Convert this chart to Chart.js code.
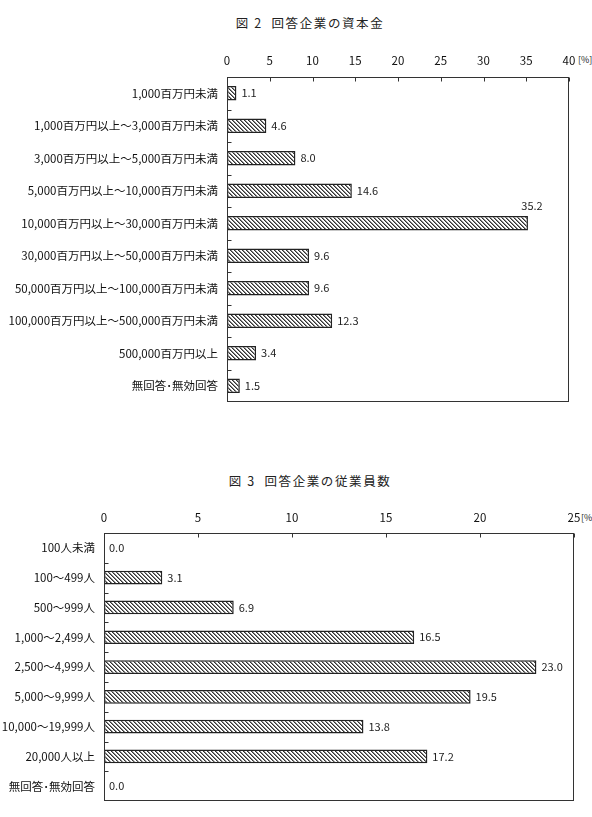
<!DOCTYPE html>
<html lang="ja">
<head>
<meta charset="utf-8">
<script src="https://cdn.jsdelivr.net/npm/chart.js@4/dist/chart.umd.min.js"></script>
<style>
  body { margin: 0; background: #fff; width: 592px; height: 817px; position: relative; overflow: hidden;
         font-family: "Noto Sans CJK JP", sans-serif; color: #222; }
  .title { position: absolute; left: 0; width: 620px; text-align: center; font-size: 12.5px; letter-spacing: 1.6px; }
  .unit { position: absolute; font-size: 9px; }
  canvas { position: absolute; left: 0; }
</style>
</head>
<body>
<div class="title" style="top:13px">図 2&nbsp; 回答企業の資本金</div>
<span class="unit" style="left:578px;top:53px">[%]</span>
<canvas id="capitalChart" width="592" height="420" style="top:0"></canvas>

<div class="title" style="top:471px">図 3&nbsp; 回答企業の従業員数</div>
<span class="unit" style="left:581px;top:511px">[%]</span>
<canvas id="employeeChart" width="592" height="377" style="top:440px"></canvas>

<script>
// Figure 2 data
const capitalLabels = [
  "1,000百万円未満",
  "1,000百万円以上～3,000百万円未満",
  "3,000百万円以上～5,000百万円未満",
  "5,000百万円以上～10,000百万円未満",
  "10,000百万円以上～30,000百万円未満",
  "30,000百万円以上～50,000百万円未満",
  "50,000百万円以上～100,000百万円未満",
  "100,000百万円以上～500,000百万円未満",
  "500,000百万円以上",
  "無回答･無効回答",
];
const capitalValues = [1.1, 4.6, 8.0, 14.6, 35.2, 9.6, 9.6, 12.3, 3.4, 1.5];
const capitalTicks = [0, 5, 10, 15, 20, 25, 30, 35, 40];

// Figure 3 data
const employeeLabels = [
  "100人未満",
  "100～499人",
  "500～999人",
  "1,000～2,499人",
  "2,500～4,999人",
  "5,000～9,999人",
  "10,000～19,999人",
  "20,000人以上",
  "無回答･無効回答",
];
const employeeValues = [0.0, 3.1, 6.9, 16.5, 23.0, 19.5, 13.8, 17.2, 0.0];
const employeeTicks = [0, 5, 10, 15, 20, 25];

Chart.defaults.font.family = '"Noto Sans CJK JP", sans-serif';
Chart.defaults.font.size = 11;
Chart.defaults.color = "#222";

// diagonal hatch fill like the original
function hatch() {
  const c = document.createElement("canvas");
  c.width = 4;
  c.height = 4;
  const g = c.getContext("2d");
  g.fillStyle = "#fff";
  g.fillRect(0, 0, 4, 4);
  g.fillStyle = "#333";
  for (let i = 0; i < 4; i++) g.fillRect(i, i, 1, 1);
  g.fillStyle = "#888";
  for (let i = 0; i < 4; i++) g.fillRect((i + 1) % 4, i, 1, 1);
  return g.createPattern(c, "repeat");
}

// box around the plot + short inward ticks
const framePlugin = {
  id: "frame",
  afterDatasetsDraw(chart) {
    const { ctx, chartArea: a, scales } = chart;
    const l = Math.round(a.left) + 0.5, r = Math.round(a.right) - 0.5;
    const t = Math.round(a.top) + 0.5, b = Math.round(a.bottom) - 0.5;
    ctx.save();
    ctx.strokeStyle = "#333";
    ctx.lineWidth = 1;
    ctx.strokeRect(l, t, r - l, b - t);
    ctx.beginPath();
    scales.x.ticks.forEach((tk, i) => {
      const px = Math.round(scales.x.getPixelForTick(i)) + 0.5;
      ctx.moveTo(px, t);
      ctx.lineTo(px, t + 4);
    });
    const n = chart.data.labels.length;
    for (let i = 1; i < n; i++) {
      const py = Math.round((scales.y.getPixelForValue(i - 1) + scales.y.getPixelForValue(i)) / 2) + 0.5;
      ctx.moveTo(l, py);
      ctx.lineTo(l + 4, py);
    }
    ctx.stroke();
    ctx.restore();
  },
};

// value labels next to the bars
const valuePlugin = {
  id: "values",
  afterDatasetsDraw(chart, args, opts) {
    const { ctx } = chart;
    const values = chart.data.datasets[0].data;
    ctx.save();
    ctx.font = '11px "Noto Sans CJK JP", sans-serif';
    ctx.fillStyle = "#222";
    ctx.textBaseline = "middle";
    chart.getDatasetMeta(0).data.forEach((bar, i) => {
      const text = values[i].toFixed(1);
      if (i === opts.above) {
        ctx.textAlign = "center";
        ctx.fillText(text, bar.x + 4, bar.y - bar.height / 2 - 10);
      } else {
        ctx.textAlign = "left";
        ctx.fillText(text, bar.x + 5, bar.y);
      }
    });
    ctx.restore();
  },
};

function drawBars(id, labels, values, ticks, box) {
  return new Chart(document.getElementById(id), {
    type: "bar",
    data: {
      labels: labels,
      datasets: [
        {
          data: values,
          backgroundColor: hatch(),
          borderColor: "#222",
          borderWidth: 1.5,
          borderSkipped: false,
          barPercentage: box.bar,
          categoryPercentage: 1,
        },
      ],
    },
    options: {
      indexAxis: "y",
      responsive: false,
      animation: false,
      layout: { padding: { left: 0, top: 0, right: box.right, bottom: box.bottom } },
      scales: {
        x: {
          position: "top",
          min: ticks[0],
          max: ticks[ticks.length - 1],
          afterBuildTicks: (s) => { s.ticks = ticks.map((v) => ({ value: v })); },
          afterFit: (s) => { s.height = box.top; },
          grid: { display: false, drawTicks: false },
          border: { display: false },
          ticks: { padding: box.tickPad, color: "#111", font: { size: 11.5 } },
        },
        y: {
          afterFit: (s) => { s.width = box.left; },
          grid: { display: false, drawTicks: false },
          border: { display: false },
          ticks: { padding: 9, color: "#111", font: { size: 11.5 } },
        },
      },
      plugins: {
        legend: { display: false },
        tooltip: { enabled: false },
        values: { above: box.above },
      },
    },
    plugins: [framePlugin, valuePlugin],
  });
}

drawBars("capitalChart", capitalLabels, capitalValues, capitalTicks,
  { left: 227, top: 77, right: 23, bottom: 18, bar: 0.45, above: 4, tickPad: 9 });
drawBars("employeeChart", employeeLabels, employeeValues, employeeTicks,
  { left: 104, top: 93, right: 18, bottom: 9, bar: 0.46, above: -1, tickPad: 8 });
</script>
</body>
</html>
